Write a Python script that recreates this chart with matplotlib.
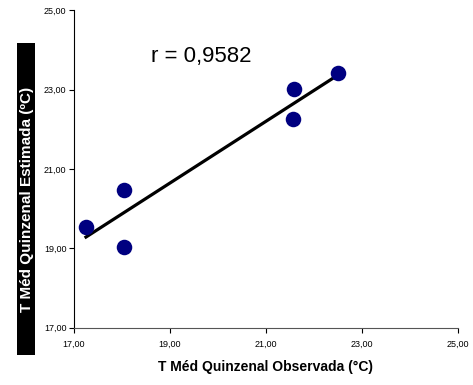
import matplotlib.pyplot as plt
import numpy as np
from matplotlib.patches import Rectangle

plt.rcParams['font.family'] = ['Liberation Sans', 'DejaVu Sans']

# Observed vs estimated fortnightly mean temperature
t_obs = [17.25, 18.04, 18.04, 21.57, 21.58, 22.51]
t_est = [19.53, 20.47, 19.04, 22.27, 23.03, 23.42]
ticks = [17, 19, 21, 23, 25]
tick_labels = ['17,00', '19,00', '21,00', '23,00', '25,00']
r_text = 'r = 0,9582'

fig = plt.figure(figsize=(4.73, 3.85), dpi=100)
ax = fig.add_axes([0.1564, 0.149, 0.8116, 0.824])

# trend line (least squares) across data range
m, b = np.polyfit(t_obs, t_est, 1)
xl = np.array([min(t_obs), max(t_obs)])
ax.plot(xl, m * xl + b, color='black', lw=2.3, zorder=2)

ax.scatter(t_obs, t_est, s=125, color='#000080', zorder=3, linewidths=0)

ax.set_xlim(17, 25)
ax.set_ylim(17, 25)
ax.set_xticks(ticks)
ax.set_xticklabels(tick_labels)
ax.set_yticks(ticks)
ax.set_yticklabels(tick_labels)
ax.tick_params(labelsize=6.5, length=3.5, width=0.8, direction='out', pad=5)
ax.tick_params(axis='y', pad=2)

for s in ['top', 'right']:
    ax.spines[s].set_visible(False)
ax.spines['left'].set_color('black')
ax.spines['bottom'].set_color('#555555')

ax.text(19.65, 23.84, r_text, fontsize=16, ha='center', va='center')

ax.set_xlabel('T Méd Quinzenal Observada (°C)', fontsize=10, fontweight='bold', labelpad=8)

# y label: white bold text on black bar
fig.patches.append(Rectangle((17 / 473, 1 - 355 / 385), 18 / 473, 312 / 385,
                             transform=fig.transFigure, facecolor='black',
                             edgecolor='none'))
fig.text(26.5 / 473, 1 - 199 / 385, 'T Méd Quinzenal Estimada (ºC)', rotation=90,
         color='white', fontsize=11, fontweight='bold', ha='center', va='center')

fig.savefig('out.png', dpi=100)
